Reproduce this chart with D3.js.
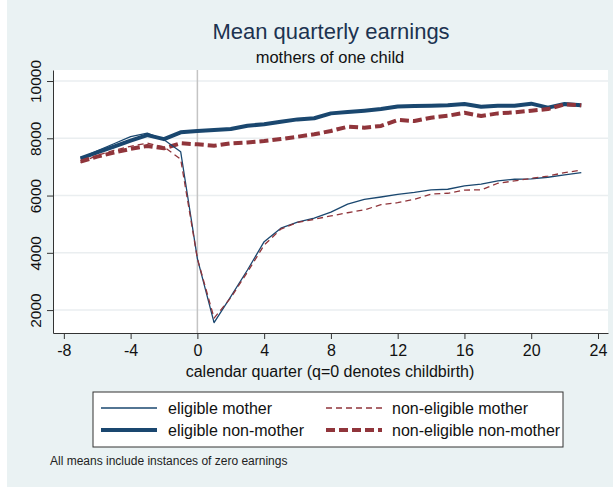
<!DOCTYPE html>
<html>
<head>
<meta charset="utf-8">
<script src="https://cdn.jsdelivr.net/npm/d3@7"></script>
<style>
	body { margin: 0; background: #fff; }
	svg { display: block; font-family: "Liberation Sans", Arial, sans-serif; }
</style>
</head>
<body>
<svg id="svg" width="613" height="489"></svg>
<script>

// quarters relative to childbirth
var quarters = [-7, -6, -5, -4, -3, -2, -1, 0, 1, 2, 3, 4, 5, 6, 7, 8, 9, 10, 11, 12, 13, 14, 15, 16, 17, 18, 19, 20, 21, 22, 23];

var eligibleMother = [7300, 7560, 7810, 8060, 8180, 7950, 7530, 3800, 1560, 2470, 3400, 4390, 4860, 5070, 5210, 5420, 5700, 5870, 5950, 6040, 6110, 6200, 6220, 6340, 6400, 6510, 6570, 6580, 6640, 6720, 6800];
var nonEligibleMother = [7150, 7400, 7580, 7720, 7830, 7700, 7270, 3800, 1720, 2430, 3330, 4270, 4830, 5060, 5170, 5290, 5400, 5500, 5680, 5750, 5870, 6050, 6080, 6190, 6200, 6430, 6510, 6600, 6680, 6800, 6890];
var eligibleNonMother = [7300, 7510, 7710, 7920, 8110, 7970, 8210, 8255, 8290, 8325, 8440, 8490, 8580, 8660, 8700, 8870, 8915, 8965, 9020, 9110, 9125, 9140, 9155, 9195, 9105, 9140, 9140, 9210, 9070, 9195, 9150];
var nonEligibleNonMother = [7185, 7360, 7500, 7630, 7730, 7650, 7825, 7790, 7740, 7825, 7855, 7905, 7975, 8055, 8140, 8255, 8405, 8370, 8430, 8640, 8605, 8720, 8785, 8890, 8780, 8870, 8905, 8965, 9020, 9185, 9150];

var xTicks = [-8, -4, 0, 4, 8, 12, 16, 20, 24];
var yTicks = [2000, 4000, 6000, 8000, 10000];

var series = [
	{ name: "eligible mother", values: eligibleMother, color: "#1a476f", width: 1.3, dash: null },
	{ name: "non-eligible mother", values: nonEligibleMother, color: "#90353b", width: 1.3, dash: "6,4" },
	{ name: "eligible non-mother", values: eligibleNonMother, color: "#1a476f", width: 4, dash: null },
	{ name: "non-eligible non-mother", values: nonEligibleNonMother, color: "#90353b", width: 4, dash: "9,4" }
];

var svg = d3.select("svg"),
	width = +svg.attr("width"),
	height = +svg.attr("height");

var plot = { left: 53, right: 608, top: 70, bottom: 333 };

// plain ascii numbers like stata prints them
var fmt = function (d) { return String(d); };

// stata style background
svg.append("rect")
	.attr("x", 7).attr("y", 0)
	.attr("width", width - 7).attr("height", 487)
	.style("fill", "#eaf2f3");

svg.append("rect")
	.attr("x", plot.left).attr("y", plot.top)
	.attr("width", plot.right - plot.left).attr("height", plot.bottom - plot.top)
	.style("fill", "#fff");

var x = d3.scaleLinear().domain([-8.65, 24.6]).range([plot.left, plot.right]);
var y = d3.scaleLinear().domain([1200, 10385]).range([plot.bottom, plot.top]);

// gridlines
svg.append("g")
	.selectAll("line")
	.data(yTicks)
	.enter().append("line")
	.attr("x1", plot.left).attr("x2", plot.right)
	.attr("y1", function (d) { return y(d); })
	.attr("y2", function (d) { return y(d); })
	.style("stroke", "#eaeef0")
	.style("stroke-width", 1.5);

// childbirth line
svg.append("line")
	.attr("x1", x(0)).attr("x2", x(0))
	.attr("y1", plot.top).attr("y2", plot.bottom)
	.style("stroke", "#c4c4c4")
	.style("stroke-width", 1.5);

var line = d3.line()
	.x(function (d) { return x(d[0]); })
	.y(function (d) { return y(d[1]); });

// draw thick ones first, thin on top
var order = [series[2], series[3], series[0], series[1]];
svg.append("g")
	.selectAll("path")
	.data(order)
	.enter().append("path")
	.attr("d", function (s) { return line(quarters.map(function (q, i) { return [q, s.values[i]]; })); })
	.style("fill", "none")
	.style("stroke", function (s) { return s.color; })
	.style("stroke-width", function (s) { return s.width; })
	.style("stroke-dasharray", function (s) { return s.dash; })
	.style("stroke-linejoin", "round");

// axes
var xAxis = svg.append("g")
	.attr("transform", "translate(0," + plot.bottom + ")")
	.call(d3.axisBottom(x).tickValues(xTicks).tickFormat(fmt).tickSize(6).tickSizeOuter(0));
xAxis.select(".domain").style("stroke", "#333");
xAxis.selectAll(".tick line").style("stroke", "#333");
xAxis.selectAll("text")
	.attr("dy", "0.9em")
	.style("font-size", "16px")
	.style("fill", "#111");

var yAxis = svg.append("g")
	.attr("transform", "translate(" + plot.left + ",0)")
	.call(d3.axisLeft(y).tickValues(yTicks).tickFormat(fmt).tickSize(6).tickSizeOuter(0));
yAxis.select(".domain").style("stroke", "#333");
yAxis.selectAll(".tick line").style("stroke", "#333");
yAxis.selectAll("text")
	.attr("transform", "rotate(-90)")
	.attr("x", 0)
	.attr("y", -12)
	.attr("dy", 0)
	.style("text-anchor", "middle")
	.style("font-size", "15.5px")
	.style("fill", "#111");

// titles
svg.append("text")
	.attr("x", 331).attr("y", 39)
	.attr("text-anchor", "middle")
	.style("font-size", "22px")
	.style("fill", "#1c3350")
	.text("Mean quarterly earnings");

svg.append("text")
	.attr("x", 330).attr("y", 63)
	.attr("text-anchor", "middle")
	.style("font-size", "16.5px")
	.style("fill", "#111")
	.text("mothers of one child");

svg.append("text")
	.attr("x", 330).attr("y", 377)
	.attr("text-anchor", "middle")
	.style("font-size", "16px")
	.style("fill", "#111")
	.text("calendar quarter (q=0 denotes childbirth)");

// legend
var legend = svg.append("g");
legend.append("rect")
	.attr("x", 93).attr("y", 392)
	.attr("width", 470).attr("height", 55)
	.style("fill", "#fff")
	.style("stroke", "#333")
	.style("stroke-width", 1);

var legendPos = [
	{ lx: 101, tx: 168, ty: 408 },
	{ lx: 326, tx: 392, ty: 408 },
	{ lx: 101, tx: 168, ty: 430 },
	{ lx: 326, tx: 392, ty: 430 }
];

var item = legend.selectAll("g.item")
	.data(series)
	.enter().append("g")
	.attr("class", "item");

item.append("line")
	.attr("x1", function (d, i) { return legendPos[i].lx; })
	.attr("x2", function (d, i) { return legendPos[i].lx + 56; })
	.attr("y1", function (d, i) { return legendPos[i].ty; })
	.attr("y2", function (d, i) { return legendPos[i].ty; })
	.style("stroke", function (d) { return d.color; })
	.style("stroke-width", function (d) { return d.width; })
	.style("stroke-dasharray", function (d) { return d.dash; });

item.append("text")
	.attr("x", function (d, i) { return legendPos[i].tx; })
	.attr("y", function (d, i) { return legendPos[i].ty + 5.5; })
	.style("font-size", "16px")
	.style("fill", "#111")
	.text(function (d) { return d.name; });

svg.append("text")
	.attr("x", 50).attr("y", 465)
	.style("font-size", "12px")
	.style("fill", "#222")
	.text("All means include instances of zero earnings");

</script>
</body>
</html>
